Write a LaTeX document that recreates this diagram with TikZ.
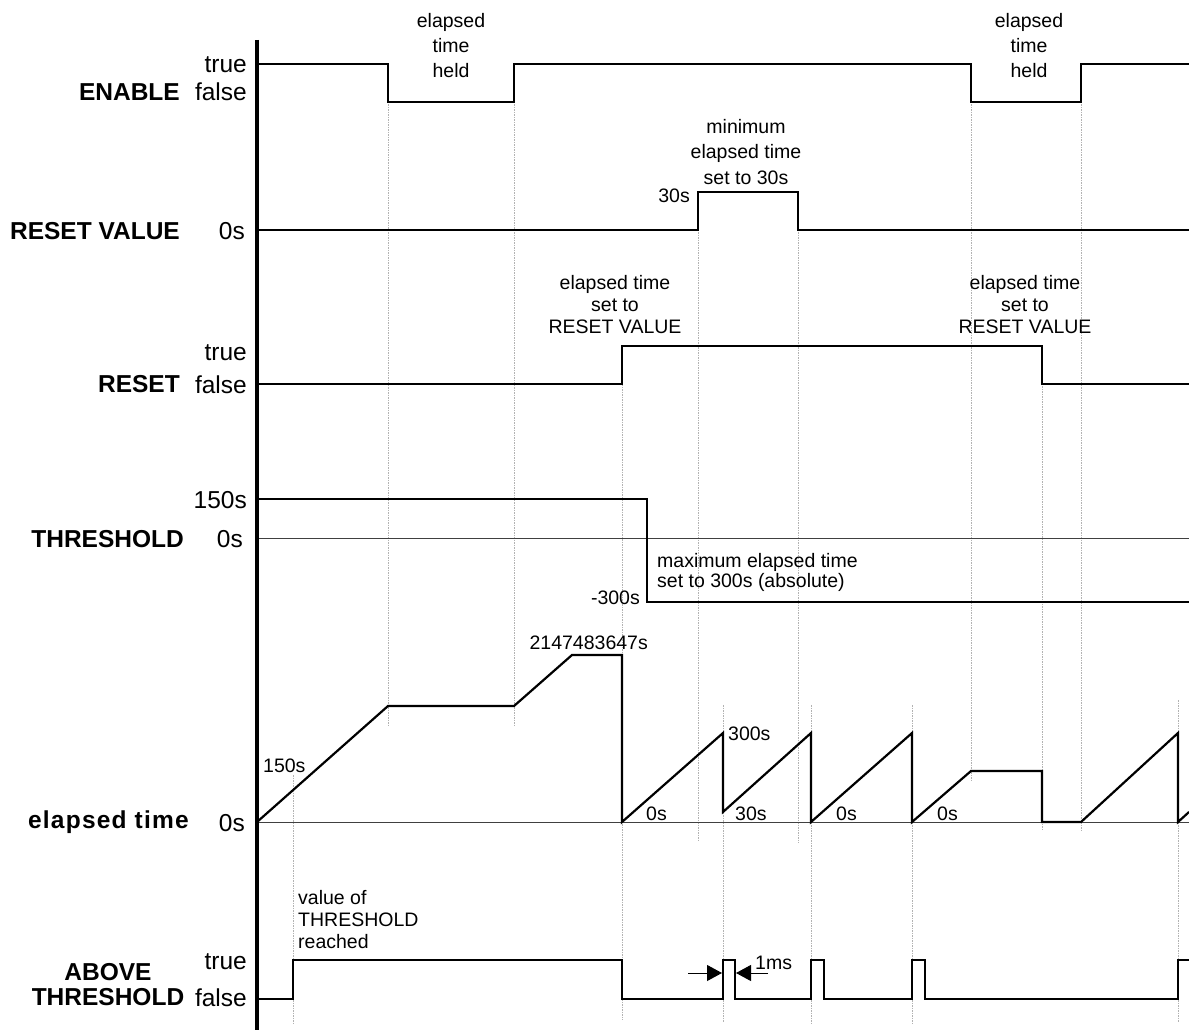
\documentclass[tikz,border=0pt]{standalone}
\usepackage{fontspec}
\setmainfont{Liberation Sans}
\usetikzlibrary{arrows.meta}

\begin{document}
\begin{tikzpicture}[
    x=1pt, y=-1pt,
    wave/.style={line width=2.2pt, line join=miter},
    zero/.style={line width=1pt, black!75},
    guide/.style={line width=0.7pt, gray!60, dash pattern=on 1.5pt off 1pt},
    axis/.style={line width=3.4pt},
    lab/.style={font=\fontsize{24.5}{28}\selectfont\bfseries, inner sep=0pt},
    val/.style={font=\fontsize{24.5}{28}\selectfont, inner sep=0pt},
    note/.style={font=\fontsize{19.5}{22}\selectfont, inner sep=0pt, align=center},
    gap/.style={-{Triangle[length=15pt, width=16pt]}, line width=1pt},
  ]
    \useasboundingbox (0,0) rectangle (1189,1030);

    \draw[guide] (293,775) -- (293,1023);
    \draw[guide] (388,102) -- (388,727);
    \draw[guide] (514,102) -- (514,727);
    \draw[guide] (622,384) -- (622,1020);
    \draw[guide] (698,192) -- (698,842);
    \draw[guide] (798,192) -- (798,843);
    \draw[guide] (971,102) -- (971,780);
    \draw[guide] (1042,346) -- (1042,830);
    \draw[guide] (1081,102) -- (1081,830);
    \draw[guide] (723,705) -- (723,1022);
    \draw[guide] (811,705) -- (811,1023);
    \draw[guide] (912,705) -- (912,1023);
    \draw[guide] (1178,700) -- (1178,1022);

    \draw[zero] (257,538) -- (1189,538);
    \draw[zero] (257,822) -- (1189,822);

    \draw[wave] (257,64) -- (388,64) -- (388,102) -- (514,102) -- (514,64)
      -- (971,64) -- (971,102) -- (1081,102) -- (1081,64) -- (1189,64);
    \draw[wave] (257,230) -- (698,230) -- (698,192) -- (798,192) -- (798,230)
      -- (1189,230);
    \draw[wave] (257,384) -- (622,384) -- (622,346) -- (1042,346) -- (1042,384)
      -- (1189,384);
    \draw[wave] (257,499) -- (647,499) -- (647,602) -- (1189,602);
    \draw[wave] (257,822) -- (388,706) -- (514,706) -- (572,655) -- (622,655)
      -- (622,822) -- (723,733) -- (723,812) -- (811,733) -- (811,822)
      -- (912,733) -- (912,822) -- (971,771) -- (1042,771) -- (1042,822)
      -- (1081,822) -- (1178,733) -- (1178,822) -- (1189,812);
    \draw[wave] (257,999) -- (293,999) -- (293,960) -- (622,960) -- (622,999)
      -- (723,999) -- (723,960) -- (735,960) -- (735,999) -- (811,999)
      -- (811,960) -- (824,960) -- (824,999) -- (912,999) -- (912,960)
      -- (925,960) -- (925,999) -- (1178,999) -- (1178,960) -- (1189,960);

    \draw[axis] (257,40) -- (257,1030);

    \node[lab, anchor=base east] (enable) at (180,101) {ENABLE};
    \node[val, anchor=base east] (enableT) at (247,73) {true};
    \node[val, anchor=base east] (enableF) at (247,101) {false};
    \node[lab, anchor=base east] (rstval) at (180,239) {RESET VALUE};
    \node[val, anchor=base east] (rstvalZ) at (245,239) {0s};
    \node[lab, anchor=base east] (reset) at (180,392) {RESET};
    \node[val, anchor=base east] (resetT) at (247,360) {true};
    \node[val, anchor=base east] (resetF) at (247,393) {false};
    \node[lab, anchor=base east] (thres) at (184,547) {THRESHOLD};
    \node[val, anchor=base east] (thresH) at (247,508) {150s};
    \node[val, anchor=base east] (thresZ) at (243,547) {0s};
    \node[lab, anchor=base east] (elapsed) at (189,828) {\addfontfeature{LetterSpace=5}elapsed time};
    \node[val, anchor=base east] (elapsedZ) at (245,831) {0s};
    \node[lab, align=center, font=\fontsize{24.5}{25}\selectfont\bfseries] (above) at (108,985) {ABOVE\\THRESHOLD};
    \node[val, anchor=base east] (aboveT) at (247,969) {true};
    \node[val, anchor=base east] (aboveF) at (247,1006) {false};

    \node[note, font=\fontsize{19.5}{25}\selectfont] (held1) at (451,46) {elapsed\\time\\held};
    \node[note, font=\fontsize{19.5}{25}\selectfont] (held2) at (1029,46) {elapsed\\time\\held};
    \node[note, font=\fontsize{19.5}{25.5}\selectfont] (minimum) at (746,152) {minimum\\elapsed time\\set to 30s};
    \node[note, anchor=base east] (rv30) at (690,202) {30s};
    \node[note] (setrst1) at (615,305) {elapsed time\\set to\\RESET VALUE};
    \node[note] (setrst2) at (1025,305) {elapsed time\\set to\\RESET VALUE};
    \node[note, align=left, anchor=west, font=\fontsize{19.5}{20}\selectfont] (maximum) at (657,572) {maximum elapsed time\\set to 300s (absolute)};
    \node[note, anchor=base east] (thresN) at (640,604) {-300s};
    \node[note, anchor=base east] (maxint) at (648,649) {2147483647s};
    \node[note, anchor=base west] (et150) at (263,772) {150s};
    \node[note, anchor=base west] (et300) at (728,740) {300s};
    \node[note, anchor=base west] (etz1) at (646,820) {0s};
    \node[note, anchor=base west] (et30) at (735,820) {30s};
    \node[note, anchor=base west] (etz2) at (836,820) {0s};
    \node[note, anchor=base west] (etz3) at (937,820) {0s};
    \node[note, align=left, anchor=west] (reached) at (298,920) {value of\\THRESHOLD\\reached};
    \node[note, anchor=base west] (onems) at (755,969) {1ms};

    \coordinate (gapL) at (688,973);
    \coordinate (riseA) at (722,973);
    \coordinate (gapR) at (768,973);
    \coordinate (fallA) at (736,973);
    \draw[gap] (gapL) -- (riseA);
    \draw[gap] (gapR) -- (fallA);
  \end{tikzpicture}
\end{document}
